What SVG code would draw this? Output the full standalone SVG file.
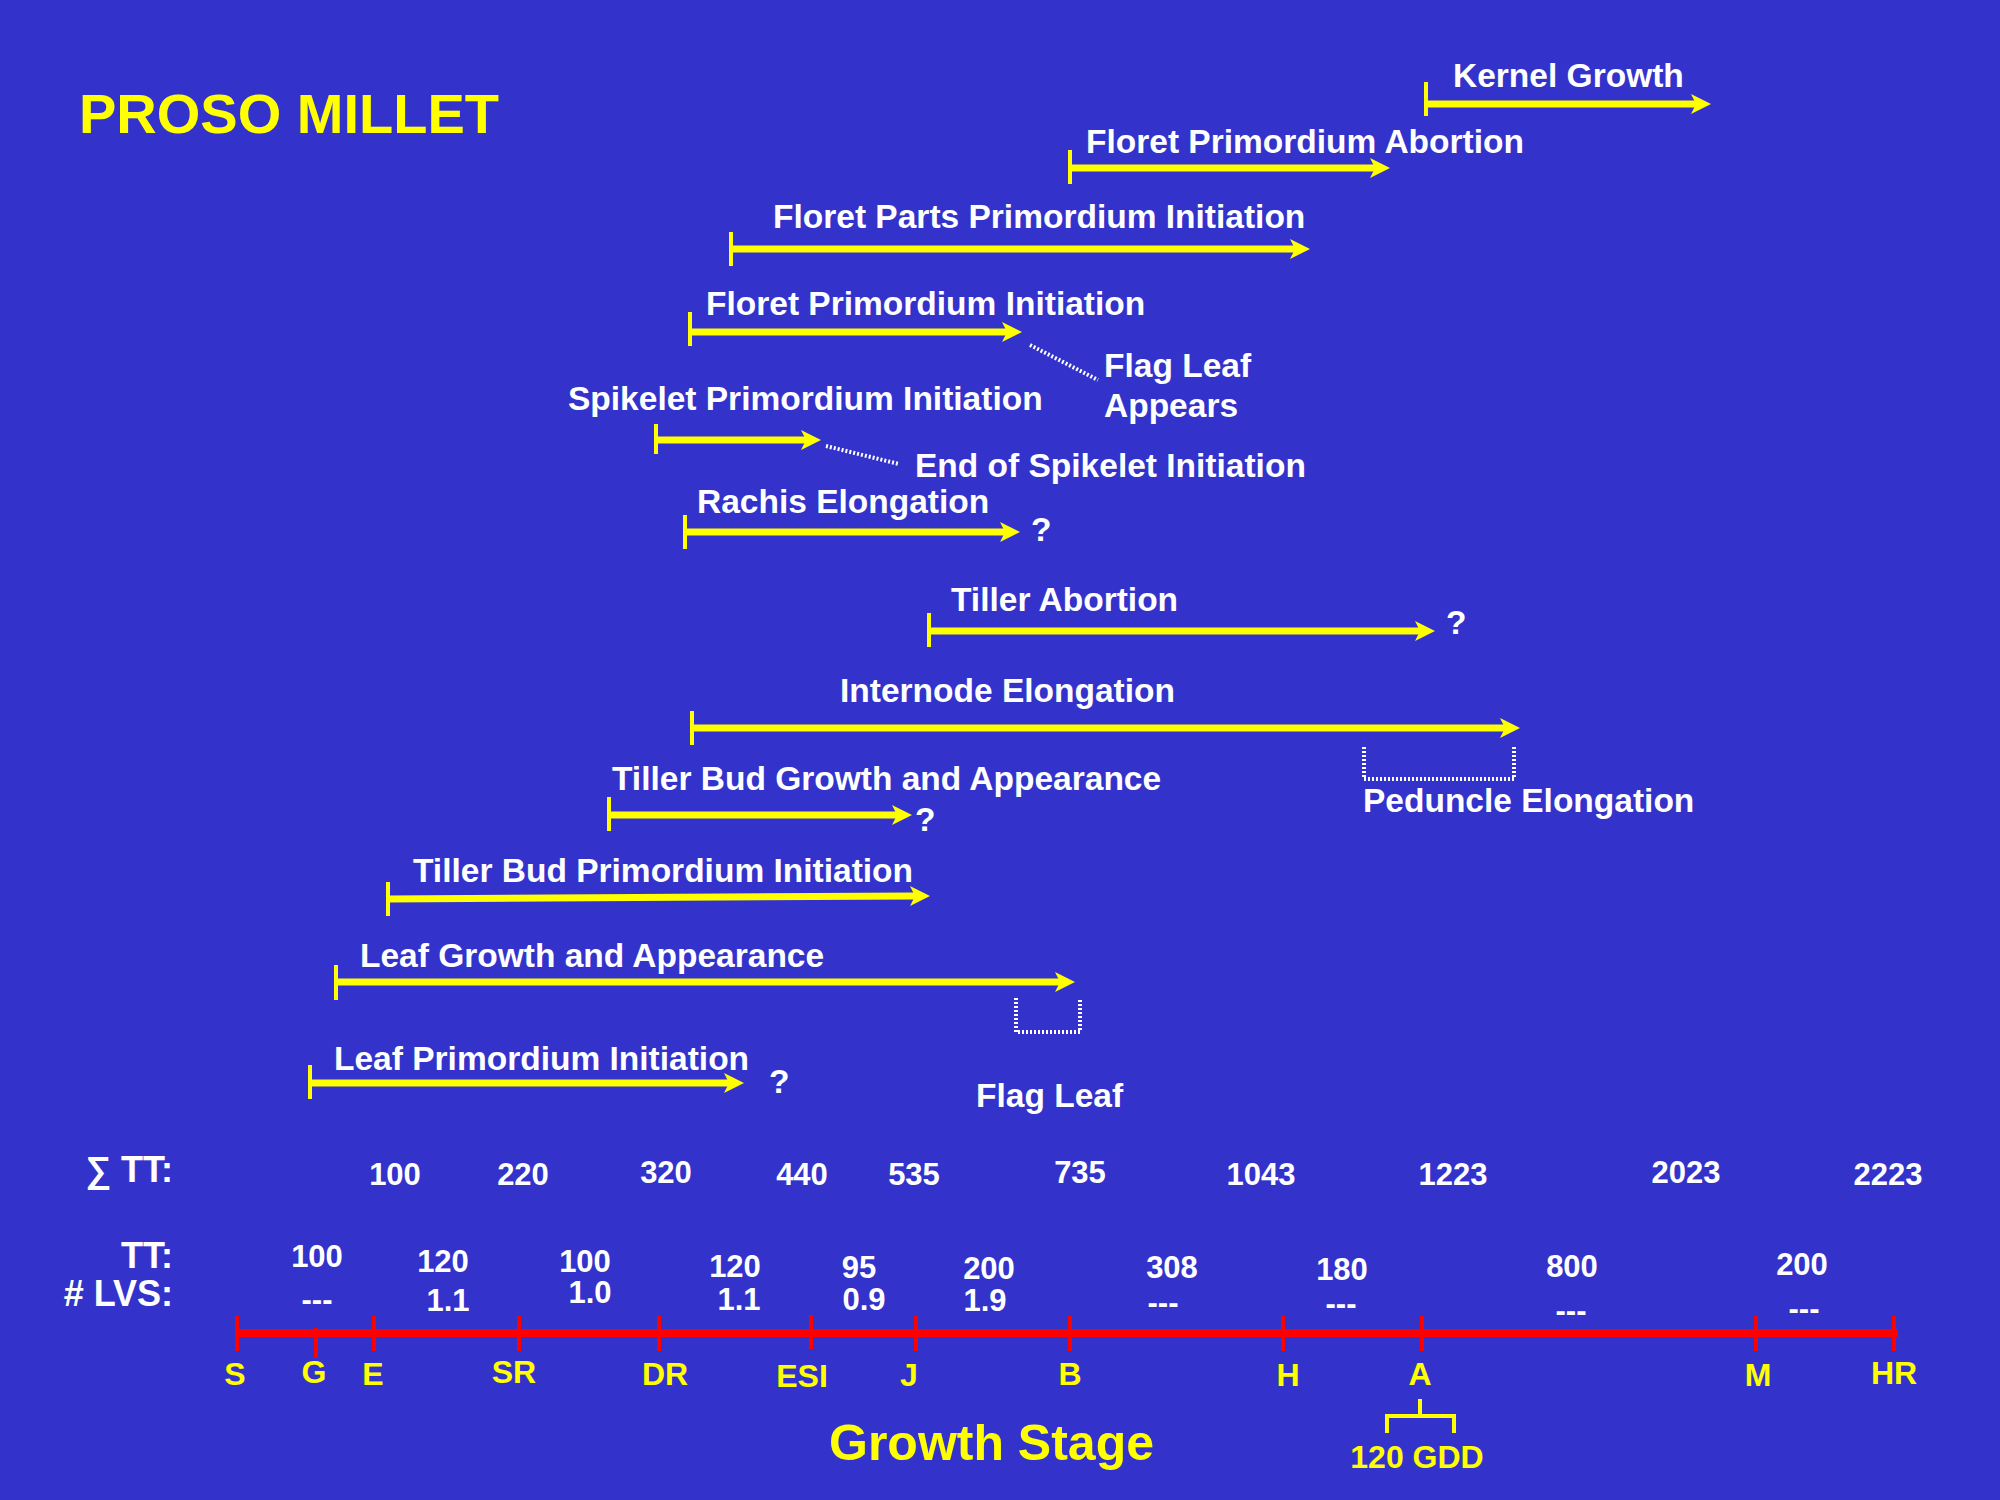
<svg xmlns="http://www.w3.org/2000/svg" width="2000" height="1500" viewBox="0 0 2000 1500">
<style>
.t{font-family:"Liberation Sans",Arial,sans-serif;font-weight:bold;}
.lbl{font-size:33.5px;fill:#FFFFFF;}
.num{font-size:31px;fill:#FFFFFF;text-anchor:middle;}
.hdr{font-size:36px;fill:#FFFFFF;text-anchor:end;}
.stg{font-size:32px;fill:#FFFF00;text-anchor:middle;}
.arr{stroke:#FFFF00;stroke-width:7;fill:none;marker-end:url(#ah);}
.tk{stroke:#FFFF00;stroke-width:4;}
.dot{stroke:#FFFFFF;stroke-width:4;stroke-dasharray:2 2;fill:none;}
.axis{stroke:#FF0000;stroke-width:8;}
.rtk{stroke:#FF0000;stroke-width:4;}
.ybr{stroke:#FFFF00;stroke-width:4;fill:none;}
</style>
<defs>
<marker id="ah" markerUnits="userSpaceOnUse" markerWidth="21" markerHeight="20" refX="5" refY="10" orient="auto" overflow="visible">
<path d="M0,0 L20,10 L0,20 L5,10 Z" fill="#FFFF00"/>
</marker>
</defs>
<rect class="bg" x="0" y="0" width="2000" height="1500" fill="#3333CC"/>

<g id="title"><text class="t" x="79" y="133" font-size="56" fill="#FFFF00">PROSO MILLET</text></g>

<g id="kernel-growth">
<text class="t lbl" x="1453" y="87">Kernel Growth</text>
<line class="tk" x1="1426" y1="82" x2="1426" y2="116"/>
<line class="arr" x1="1426" y1="104" x2="1696" y2="104"/>
</g>
<g id="floret-primordium-abortion">
<text class="t lbl" x="1086" y="153">Floret Primordium Abortion</text>
<line class="tk" x1="1070" y1="150" x2="1070" y2="184"/>
<line class="arr" x1="1070" y1="168" x2="1375" y2="168"/>
</g>
<g id="floret-parts-primordium-initiation">
<text class="t lbl" x="773" y="228">Floret Parts Primordium Initiation</text>
<line class="tk" x1="731" y1="232" x2="731" y2="266"/>
<line class="arr" x1="731" y1="249" x2="1295" y2="249"/>
</g>
<g id="floret-primordium-initiation">
<text class="t lbl" x="706" y="315">Floret Primordium Initiation</text>
<line class="tk" x1="690" y1="312" x2="690" y2="346"/>
<line class="arr" x1="690" y1="332" x2="1007" y2="332"/>
</g>
<g id="flag-leaf-appears">
<text class="t lbl" x="1104" y="377">Flag Leaf</text>
<text class="t lbl" x="1104" y="417">Appears</text>
</g>
<g id="spikelet-primordium-initiation">
<text class="t lbl" x="568" y="410">Spikelet Primordium Initiation</text>
<line class="tk" x1="656" y1="424" x2="656" y2="454"/>
<line class="arr" x1="656" y1="440" x2="806" y2="440"/>
</g>
<g id="end-of-spikelet-initiation">
<text class="t lbl" x="915" y="477">End of Spikelet Initiation</text>
</g>
<g id="rachis-elongation">
<text class="t lbl" x="697" y="513">Rachis Elongation</text>
<line class="tk" x1="685" y1="515" x2="685" y2="549"/>
<line class="arr" x1="685" y1="532" x2="1005" y2="532"/>
<text class="t lbl" x="1031" y="541">?</text>
</g>
<g id="tiller-abortion">
<text class="t lbl" x="951" y="611">Tiller Abortion</text>
<line class="tk" x1="929" y1="613" x2="929" y2="647"/>
<line class="arr" x1="929" y1="631" x2="1420" y2="631"/>
<text class="t lbl" x="1446" y="634">?</text>
</g>
<g id="internode-elongation">
<text class="t lbl" x="840" y="702">Internode Elongation</text>
<line class="tk" x1="692" y1="711" x2="692" y2="745"/>
<line class="arr" x1="692" y1="728" x2="1505" y2="728"/>
</g>
<g id="peduncle-elongation">
<path class="dot" d="M1364,747 L1364,779 L1514,779 L1514,747"/>
<text class="t lbl" x="1363" y="812">Peduncle Elongation</text>
</g>
<g id="tiller-bud-growth">
<text class="t lbl" x="612" y="790">Tiller Bud Growth and Appearance</text>
<line class="tk" x1="609" y1="797" x2="609" y2="831"/>
<line class="arr" x1="609" y1="815" x2="897" y2="815"/>
<text class="t lbl" x="915" y="831">?</text>
</g>
<g id="tiller-bud-primordium-initiation">
<text class="t lbl" x="413" y="882">Tiller Bud Primordium Initiation</text>
<line class="tk" x1="388" y1="882" x2="388" y2="916"/>
<line class="arr" x1="388" y1="899" x2="915" y2="896"/>
</g>
<g id="leaf-growth-and-appearance">
<text class="t lbl" x="360" y="967">Leaf Growth and Appearance</text>
<line class="tk" x1="336" y1="965" x2="336" y2="1000"/>
<line class="arr" x1="336" y1="982" x2="1060" y2="982"/>
<path class="dot" d="M1016,998 L1016,1032 L1080,1032 L1080,998"/>
</g>
<g id="leaf-primordium-initiation">
<text class="t lbl" x="334" y="1070">Leaf Primordium Initiation</text>
<line class="tk" x1="310" y1="1065" x2="310" y2="1099"/>
<line class="arr" x1="310" y1="1083" x2="729" y2="1083"/>
<text class="t lbl" x="769" y="1093">?</text>
</g>
<g id="flag-leaf">
<text class="t lbl" x="976" y="1107">Flag Leaf</text>
</g>

<g id="connectors">
<line class="dot" x1="1030" y1="345" x2="1098" y2="380"/>
<line class="dot" x1="826" y1="446" x2="899" y2="464"/>
</g>

<g id="sum-tt-row">
<text class="t hdr" x="173" y="1182">∑ TT:</text>
<text class="t num" x="395" y="1185">100</text>
<text class="t num" x="523" y="1185">220</text>
<text class="t num" x="666" y="1183">320</text>
<text class="t num" x="802" y="1185">440</text>
<text class="t num" x="914" y="1185">535</text>
<text class="t num" x="1080" y="1183">735</text>
<text class="t num" x="1261" y="1185">1043</text>
<text class="t num" x="1453" y="1185">1223</text>
<text class="t num" x="1686" y="1183">2023</text>
<text class="t num" x="1888" y="1185">2223</text>
</g>

<g id="tt-lvs-rows">
<text class="t hdr" x="173" y="1268">TT:</text>
<text class="t hdr" x="173" y="1306"># LVS:</text>
<text class="t num" x="317" y="1267">100</text>
<text class="t num" x="317" y="1310">---</text>
<text class="t num" x="443" y="1272">120</text>
<text class="t num" x="448" y="1311">1.1</text>
<text class="t num" x="585" y="1272">100</text>
<text class="t num" x="590" y="1303">1.0</text>
<text class="t num" x="735" y="1277">120</text>
<text class="t num" x="739" y="1310">1.1</text>
<text class="t num" x="859" y="1278">95</text>
<text class="t num" x="864" y="1310">0.9</text>
<text class="t num" x="989" y="1279">200</text>
<text class="t num" x="985" y="1311">1.9</text>
<text class="t num" x="1172" y="1278">308</text>
<text class="t num" x="1163" y="1313">---</text>
<text class="t num" x="1342" y="1280">180</text>
<text class="t num" x="1341" y="1314">---</text>
<text class="t num" x="1572" y="1277">800</text>
<text class="t num" x="1571" y="1321">---</text>
<text class="t num" x="1802" y="1275">200</text>
<text class="t num" x="1804" y="1319">---</text>
</g>

<g id="growth-stage-axis">
<line class="axis" x1="236" y1="1333" x2="1898" y2="1333"/>
<line class="rtk" x1="237" y1="1316" x2="237" y2="1351"/>
<line class="rtk" x1="316" y1="1328" x2="316" y2="1358"/>
<line class="rtk" x1="374" y1="1316" x2="374" y2="1351"/>
<line class="rtk" x1="519" y1="1316" x2="519" y2="1351"/>
<line class="rtk" x1="659" y1="1316" x2="659" y2="1351"/>
<line class="rtk" x1="811" y1="1315" x2="811" y2="1349"/>
<line class="rtk" x1="916" y1="1316" x2="916" y2="1351"/>
<line class="rtk" x1="1070" y1="1316" x2="1070" y2="1351"/>
<line class="rtk" x1="1283" y1="1316" x2="1283" y2="1351"/>
<line class="rtk" x1="1422" y1="1316" x2="1422" y2="1351"/>
<line class="rtk" x1="1756" y1="1316" x2="1756" y2="1351"/>
<line class="rtk" x1="1894" y1="1316" x2="1894" y2="1351"/>
</g>

<g id="stage-labels">
<text class="t stg" x="235" y="1385">S</text>
<text class="t stg" x="314" y="1383">G</text>
<text class="t stg" x="373" y="1385">E</text>
<text class="t stg" x="514" y="1383">SR</text>
<text class="t stg" x="665" y="1385">DR</text>
<text class="t stg" x="802" y="1387">ESI</text>
<text class="t stg" x="909" y="1386">J</text>
<text class="t stg" x="1070" y="1385">B</text>
<text class="t stg" x="1288" y="1386">H</text>
<text class="t stg" x="1420" y="1385">A</text>
<text class="t stg" x="1758" y="1386">M</text>
<text class="t stg" x="1894" y="1384">HR</text>
</g>

<g id="gdd-bracket">
<path class="ybr" d="M1420,1399 L1420,1416 M1387,1433 L1387,1416 L1454,1416 L1454,1433"/>
<text class="t" x="1417" y="1468" font-size="32" fill="#FFFF00" text-anchor="middle">120 GDD</text>
</g>

<g id="axis-title">
<text class="t" x="829" y="1460" font-size="50" fill="#FFFF00">Growth Stage</text>
</g>
</svg>
